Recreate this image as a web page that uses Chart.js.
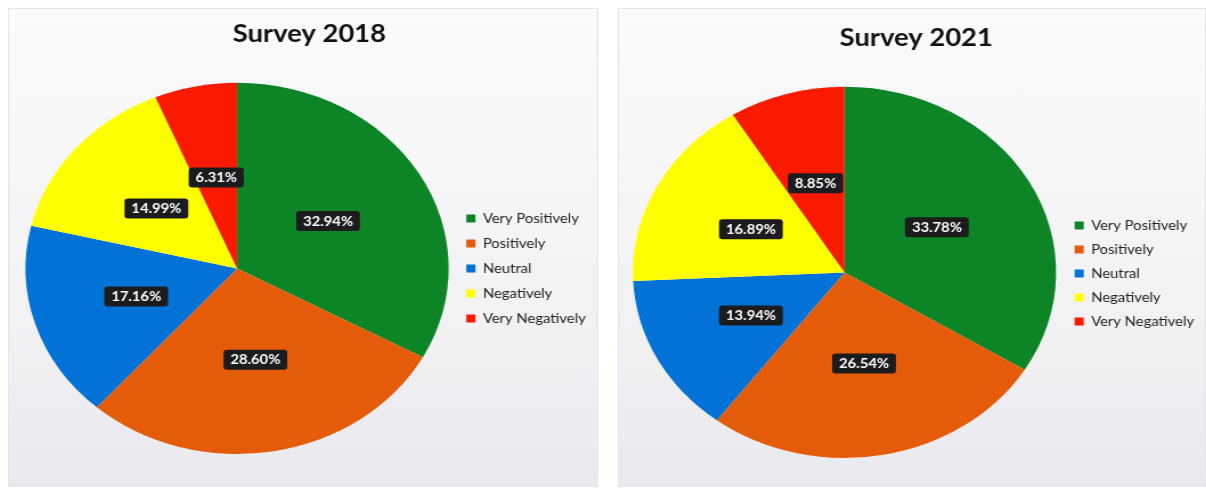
<!DOCTYPE html>
<html>
<head>
<meta charset="utf-8">
<script src="https://cdn.jsdelivr.net/npm/chart.js@4.4.1/dist/chart.umd.min.js"></script>
<style>
  body { margin: 0; background: #fff; width: 1206px; height: 489px; position: relative; overflow: hidden; }
  .panel { position: absolute; background: linear-gradient(#fbfbfc, #f1f1f4 70%, #e9e9ee); border: 1px solid #e4e4e8; box-sizing: border-box; }
  .wrap { position: absolute; left: 0; top: 0; transform: scaleX(1.14); transform-origin: 0 0; }
</style>
</head>
<body>
<div class="panel" style="left:8px;top:8px;width:590px;height:479px">
  <div class="wrap"><canvas id="chart2018" width="517" height="479"></canvas></div>
</div>
<div class="panel" style="left:618px;top:8px;width:588px;height:479px">
  <div class="wrap"><canvas id="chart2021" width="516" height="479"></canvas></div>
</div>
<script>
var categories = ['Very Positively', 'Positively', 'Neutral', 'Negatively', 'Very Negatively'];
var values2018 = [32.94, 28.60, 17.16, 14.99, 6.31];
var values2021 = [33.78, 26.54, 13.94, 16.89, 8.85];
var sliceColors = ['#0d8526', '#e45c0a', '#0272d6', '#ffff00', '#fa1a00'];

Chart.defaults.font.family = 'Lato';

// black boxes with the percentage in the middle of each slice
var pctLabels = {
    id: 'pctLabels',
    afterDatasetsDraw: function (chart) {
        var ctx = chart.ctx;
        var meta = chart.getDatasetMeta(0);
        meta.data.forEach(function (arc, i) {
            var p = arc.tooltipPosition();
            var txt = chart.data.datasets[0].data[i].toFixed(2) + '%';
            ctx.save();
            ctx.font = 'bold 13px Lato';
            var w = ctx.measureText(txt).width + 12;
            var h = 20;
            ctx.fillStyle = '#1c1c1e';
            ctx.beginPath();
            ctx.roundRect(p.x - w / 2, p.y - h / 2, w, h, 3);
            ctx.fill();
            ctx.fillStyle = '#ffffff';
            ctx.textAlign = 'center';
            ctx.textBaseline = 'middle';
            ctx.fillText(txt, p.x, p.y + 0.5);
            ctx.restore();
        });
    }
};

function makePie(id, title, values, pad, titlePad, legendPad, legendDrop) {
    var ctx = document.getElementById(id).getContext('2d');
    return new Chart(ctx, {
        type: 'pie',
        data: {
            labels: categories,
            datasets: [{
                data: values,
                backgroundColor: sliceColors,
                borderWidth: 0,
                hoverOffset: 0
            }]
        },
        options: {
            responsive: false,
            animation: false,
            layout: { padding: pad },
            plugins: {
                title: {
                    display: true,
                    text: title,
                    color: '#111',
                    font: { size: 24, weight: 'bold' },
                    padding: titlePad
                },
                legend: {
                    position: 'right',
                    // empty title only pushes the entries down to the pie's middle
                    title: { display: true, text: '', font: { size: 10 }, padding: { top: legendDrop, bottom: 0 } },
                    labels: {
                        boxWidth: 8,
                        boxHeight: 8,
                        padding: legendPad,
                        color: '#222',
                        font: { size: 13 }
                    }
                },
                tooltip: { enabled: false }
            }
        },
        plugins: [pctLabels]
    });
}

makePie('chart2018', 'Survey 2018', values2018, { left: 11, right: 1, top: 0, bottom: 34 }, { top: 11, bottom: 34 }, 12, 62);
makePie('chart2021', 'Survey 2021', values2021, { left: 7, right: 1.5, top: 0, bottom: 30 }, { top: 15, bottom: 34 }, 11, 68);
</script>
</body>
</html>
